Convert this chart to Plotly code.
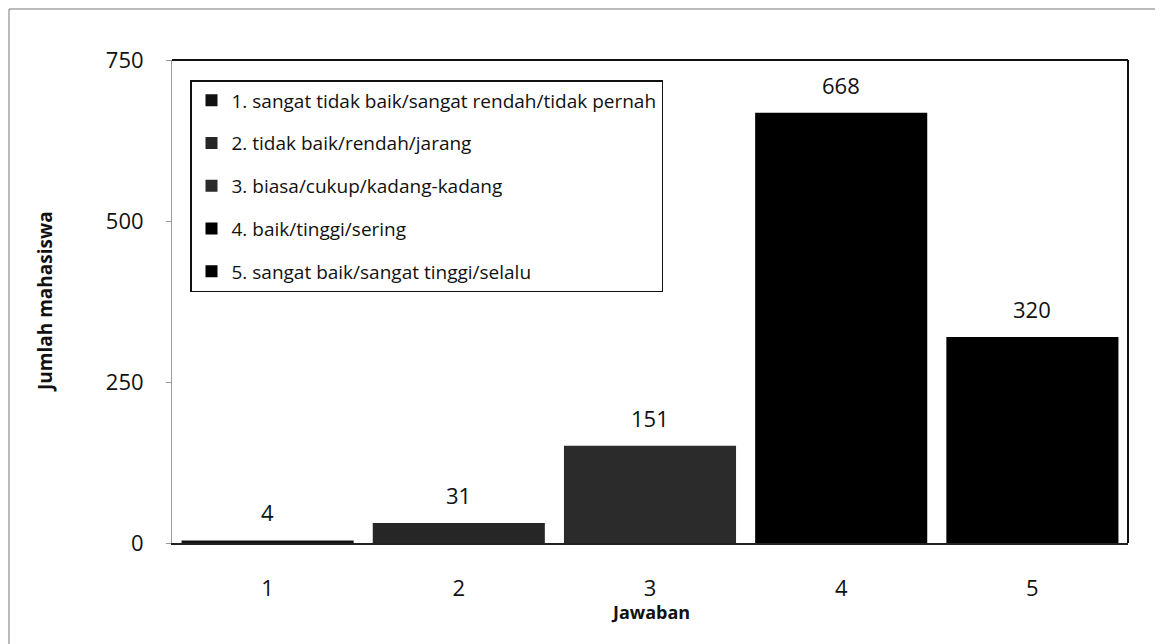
import plotly.graph_objects as go

categories = ["1", "2", "3", "4", "5"]
values = [4, 31, 151, 668, 320]
legend_names = [
    "1. sangat tidak baik/sangat rendah/tidak pernah",
    "2. tidak baik/rendah/jarang",
    "3. biasa/cukup/kadang-kadang",
    "4. baik/tinggi/sering",
    "5. sangat baik/sangat tinggi/selalu",
]
bar_colors = ["#111111", "#262626", "#2b2b2b", "#000000", "#000000"]
y_ticks = [0, 250, 500, 750]

FONT = "Open Sans"
OFF = 8  # default page body margin
W, H = 1163 - OFF, 644 - OFF
# plot area in page pixels: left 172, right 1128, top 60, bottom 543
L, R, T, B = 172 - OFF, W - (1128 - OFF), 60 - OFF, H - (543 - OFF)
pw, ph = W - L - R, H - T - B


def px(x):  # page pixel -> paper x
    return (x - OFF - L) / pw


def py(y):  # page pixel -> paper y
    return (H - B - (y - OFF)) / ph


fig = go.Figure()
for i, (c, v) in enumerate(zip(categories, values)):
    fig.add_trace(go.Bar(
        x=[c], y=[v], name=legend_names[i],
        marker=dict(color=bar_colors[i], line=dict(width=0)),
        legendgroup=f"g{i}",
    ))
    fig.add_annotation(x=i, y=v, text=str(v), showarrow=False,
                       yanchor="bottom", yshift=11,
                       font=dict(family=FONT, size=22, color="#111"))

shapes = [
    dict(type="rect", xref="paper", yref="paper", x0=px(9), x1=px(1161),
         y0=py(660), y1=py(9), line=dict(color="#777", width=1)),
    dict(type="line", xref="paper", yref="paper", x0=0, x1=1, y0=1, y1=1,
         line=dict(color="#111", width=2)),
    dict(type="line", xref="paper", yref="paper", x0=1, x1=1, y0=0, y1=1,
         line=dict(color="#111", width=2)),
]

fig.update_layout(
    width=W, height=H,
    margin=dict(l=L, r=R, t=T, b=B),
    paper_bgcolor="white", plot_bgcolor="white",
    barmode="overlay", bargap=0.1,
    font=dict(family=FONT, size=16, color="#111"),
    showlegend=True,
    legend=dict(x=px(190), y=py(80), xanchor="left", yanchor="top",
                bgcolor="white", bordercolor="#111", borderwidth=1.5,
                font=dict(family=FONT, size=19, color="#111"),
                traceorder="grouped", tracegroupgap=15,
                itemwidth=30),
    shapes=shapes,
    xaxis=dict(type="category", showgrid=False, showline=True, linecolor="#222",
               linewidth=1.5, ticks="", tickfont=dict(size=22),
               ticklabelstandoff=25, zeroline=False),
    yaxis=dict(range=[0, 750], tickvals=y_ticks, showgrid=False, showline=True,
               linecolor="#999", linewidth=1, ticks="outside", ticklen=5,
               tickcolor="#999", tickfont=dict(size=22), ticklabelstandoff=18,
               zeroline=False),
)

fig.add_annotation(xref="paper", yref="paper", x=px(45), y=py(302),
                   xanchor="center", yanchor="middle",
                   text="<b>Jumlah mahasiswa</b>", textangle=-90, showarrow=False,
                   font=dict(family=FONT, size=19, color="#111"))
fig.add_annotation(xref="paper", yref="paper", x=px(650), y=py(612),
                   xanchor="center", yanchor="middle",
                   text="<b>Jawaban</b>", showarrow=False,
                   font=dict(family=FONT, size=18, color="#111"))

fig.write_html("out.html")
